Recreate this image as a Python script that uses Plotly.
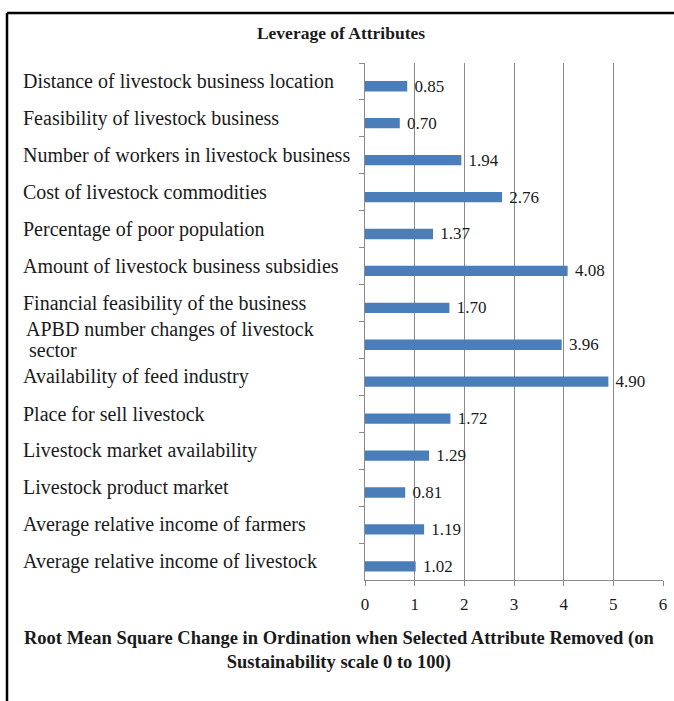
import plotly.graph_objects as go

title_text = "Leverage of Attributes"
categories = [
    "Distance of livestock business location",
    "Feasibility of livestock business",
    "Number of workers in livestock business",
    "Cost of livestock commodities",
    "Percentage of poor population",
    "Amount of livestock business subsidies",
    "Financial feasibility of the business",
    "APBD number changes of livestock<br>sector",
    "Availability of feed industry",
    "Place for sell livestock",
    "Livestock market availability",
    "Livestock product market",
    "Average relative income of farmers",
    "Average relative income of livestock",
]
values = [0.85, 0.70, 1.94, 2.76, 1.37, 4.08, 1.70, 3.96, 4.90, 1.72, 1.29, 0.81, 1.19, 1.02]
x_ticks = [0, 1, 2, 3, 4, 5, 6]
axis_title = "Root Mean Square Change in Ordination when Selected Attribute Removed (on<br>Sustainability scale 0 to 100)"

SERIF = "Liberation Serif, Times New Roman, serif"
W, H = 674, 701
L, R, T, B = 365, 11, 63, 121
pw, ph = W - L - R, H - T - B

def px_x(px):
    return (px - L) / pw

def px_y(py):
    return (H - B - py) / ph

fig = go.Figure()
fig.add_trace(go.Bar(
    y=categories, x=values, orientation="h",
    marker=dict(color="#4a7ebb", line=dict(width=0)),
    width=0.28, offset=-0.01,
    text=[f" {v:.2f}" for v in values],
    textposition="outside", textangle=0, constraintext="none",
    textfont=dict(family=SERIF, size=17, color="#1a1a1a"),
    cliponaxis=False,
))

LINE_GAP = 20
for c in categories:
    lines = c.split("<br>")
    n = len(lines)
    for k, ln in enumerate(lines):
        shift = ((n - 1) / 2 - k) * LINE_GAP
        fig.add_annotation(
            x=px_x(24 if n == 1 else 27), xref="paper", y=c, yref="y",
            text=ln, showarrow=False, xanchor="left", yanchor="middle", align="left",
            xshift=-2 + (3 if k > 0 else 0), yshift=shift, borderpad=0,
            font=dict(family=SERIF, size=20, color="#1a1a1a"),
        )

fig.add_annotation(
    x=px_x(339), xref="paper", y=px_y(650), yref="paper",
    text="<b>" + axis_title.replace("<br>", "</b><br><b>") + "</b>",
    showarrow=False, xanchor="center", yanchor="middle", align="center",
    font=dict(family=SERIF, size=18.5, color="#1a1a1a"),
)

# frame lines
fig.add_shape(type="line", xref="paper", yref="paper",
              x0=px_x(7), x1=px_x(680), y0=px_y(13), y1=px_y(13),
              line=dict(color="black", width=2.5))
fig.add_shape(type="line", xref="paper", yref="paper",
              x0=px_x(7), x1=px_x(7), y0=px_y(13), y1=px_y(710),
              line=dict(color="black", width=2.5))

fig.update_layout(
    width=W, height=H,
    margin=dict(l=L, r=R, t=T, b=B, autoexpand=False),
    paper_bgcolor="white", plot_bgcolor="white",
    showlegend=False,
    title=dict(text="<b>" + title_text + "</b>", x=341 / W, xanchor="center",
               y=1 - 33 / H, yanchor="middle", yref="container",
               font=dict(family=SERIF, size=17.5, color="#1a1a1a")),
    xaxis=dict(range=[0, 6], tickvals=x_ticks, ticktext=[str(t) for t in x_ticks],
               automargin=False,
               showgrid=True, gridcolor="#8a8a8a", gridwidth=1,
               zeroline=False, showline=True, linecolor="#8a8a8a", linewidth=1,
               ticks="outside", ticklen=5, tickcolor="#8a8a8a",
               ticklabelstandoff=4,
               tickfont=dict(family=SERIF, size=17, color="#1a1a1a")),
    yaxis=dict(type="category", categoryarray=categories, autorange="reversed",
               automargin=False,
               showticklabels=False, showgrid=False, zeroline=False,
               showline=True, linecolor="#8a8a8a", linewidth=1,
               ticks="outside", ticklen=5, tickcolor="#8a8a8a", tickson="boundaries"),
)

fig.write_html("out.html")
